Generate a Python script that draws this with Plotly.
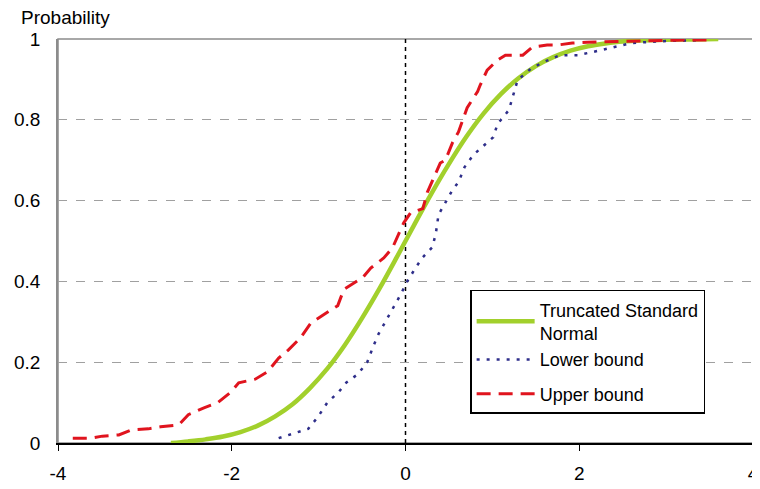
import plotly.graph_objects as go

# Truncated standard normal CDF
green_x = [-2.7, -2.5, -2.3, -2.1, -1.9, -1.7, -1.5, -1.3, -1.1, -0.9, -0.7, -0.5, -0.3, -0.1,
           0.1, 0.3, 0.5, 0.7, 0.9, 1.1, 1.3, 1.5, 1.7, 1.9, 2.1, 2.3, 2.5, 2.7, 3.0, 3.3, 3.6]
green_y = [0.0, 0.004, 0.009, 0.016, 0.027, 0.043, 0.066, 0.096, 0.136, 0.184, 0.242, 0.309, 0.382, 0.460,
           0.540, 0.618, 0.691, 0.758, 0.816, 0.864, 0.903, 0.933, 0.955, 0.971, 0.982, 0.989, 0.994, 0.996, 0.998, 0.999, 1.0]

# Lower bound
lower_x = [-1.46, -1.12, -1.01, -0.90, -0.77, -0.68, -0.55, -0.44, -0.37, -0.31, -0.06, 0.02, 0.12, 0.20,
           0.31, 0.35, 0.38, 0.46, 0.54, 0.61, 0.68, 0.78, 1.01, 1.06, 1.19, 1.24, 1.29, 1.44, 1.59, 1.78,
           1.98, 2.16, 2.6, 3.0, 3.4]
lower_y = [0.012, 0.035, 0.064, 0.10, 0.126, 0.15, 0.17, 0.20, 0.24, 0.27, 0.366, 0.40, 0.435, 0.46,
           0.485, 0.52, 0.565, 0.594, 0.626, 0.646, 0.683, 0.713, 0.757, 0.79, 0.824, 0.861, 0.898, 0.926, 0.943, 0.96,
           0.96, 0.968, 0.99, 0.995, 0.997]

# Upper bound
upper_x = [-3.83, -3.62, -3.49, -3.30, -3.16, -2.96, -2.82, -2.61, -2.50, -2.32, -2.16, -2.01, -1.92, -1.73,
           -1.59, -1.46, -1.35, -1.21, -1.09, -1.0, -0.9, -0.78, -0.71, -0.6, -0.49, -0.40, -0.25, -0.15,
           -0.08, -0.02, 0.06, 0.20, 0.25, 0.32, 0.40, 0.46, 0.54, 0.61, 0.66, 0.71, 0.83, 0.86, 0.94,
           1.06, 1.15, 1.35, 1.46, 1.63, 1.75, 1.92, 2.09, 2.6, 3.1, 3.54]
upper_y = [0.012, 0.012, 0.017, 0.02, 0.032, 0.035, 0.04, 0.045, 0.07, 0.087, 0.10, 0.126, 0.149, 0.158,
           0.176, 0.21, 0.23, 0.26, 0.297, 0.31, 0.324, 0.34, 0.38, 0.396, 0.41, 0.433, 0.458, 0.483,
           0.515, 0.545, 0.57, 0.58, 0.62, 0.656, 0.693, 0.70, 0.743, 0.77, 0.80, 0.83, 0.87, 0.886, 0.923,
           0.948, 0.96, 0.96, 0.98, 0.985, 0.985, 0.99, 0.992, 0.995, 0.997, 0.998]

x_ticks = [-4, -2, 0, 2, 4]
x_tick_text = ["-4", "-2", "0", "2", "4"]
y_ticks = [0, 0.2, 0.4, 0.6, 0.8, 1]
y_tick_text = ["0", "0.2", "0.4", "0.6", "0.8", "1"]

FONT = "Liberation Sans, Arial, sans-serif"

fig = go.Figure()
fig.add_trace(go.Scatter(x=green_x, y=green_y, mode="lines", name="Truncated Standard<br>Normal",
                         legendgroup="a",
                         line=dict(color="#a2d02c", width=4.5, shape="spline")))
fig.add_trace(go.Scatter(x=lower_x, y=lower_y, mode="lines", name="Lower bound",
                         legendgroup="a",
                         line=dict(color="#2e2e8a", width=2.5, dash="3px,7px")))
fig.add_trace(go.Scatter(x=upper_x, y=upper_y, mode="lines", name="Upper bound",
                         legendgroup="c",
                         line=dict(color="#e0141e", width=3, dash="14px,8px")))

fig.add_shape(type="line", x0=0, x1=0, y0=0, y1=1, xref="x", yref="y",
              line=dict(color="black", width=1.5, dash="4px,4px"), layer="below")
fig.add_shape(type="rect", x0=0, x1=1, y0=0, y1=1, xref="paper", yref="paper",
              line=dict(color="#8c8c8c", width=1.5), layer="below")

fig.add_annotation(text="Probability", x=-0.056, y=1.052, xref="paper", yref="paper",
                   xanchor="left", yanchor="middle", showarrow=False,
                   font=dict(family=FONT, size=19, color="black"))

fig.update_layout(
    width=752, height=481,
    margin=dict(l=50, r=7, t=31, b=46),
    paper_bgcolor="white", plot_bgcolor="white",
    font=dict(family=FONT, size=19, color="black"),
    showlegend=True,
    legend=dict(x=0.593, y=0.379, xanchor="left", yanchor="top",
                bordercolor="black", borderwidth=1.5, bgcolor="white",
                font=dict(family=FONT, size=18, color="black"),
                tracegroupgap=8, itemwidth=58),
    xaxis=dict(range=[-4, 4], tickvals=x_ticks, ticktext=x_tick_text, showgrid=False, zeroline=False,
               showline=True, linecolor="black", linewidth=1.5, automargin=False,
               ticks="outside", ticklen=6, tickcolor="black", ticklabeloverflow="allow",
               ticklabelstandoff=6),
    yaxis=dict(range=[0, 1], tickvals=y_ticks, ticktext=y_tick_text, automargin=False,
               showgrid=True, gridcolor="#a0a0a0", griddash="dash", gridwidth=1,
               zeroline=False, showline=True, linecolor="#8c8c8c", linewidth=1.5,
               ticks="", ticklabelstandoff=12),
)

fig.write_html("out.html")
